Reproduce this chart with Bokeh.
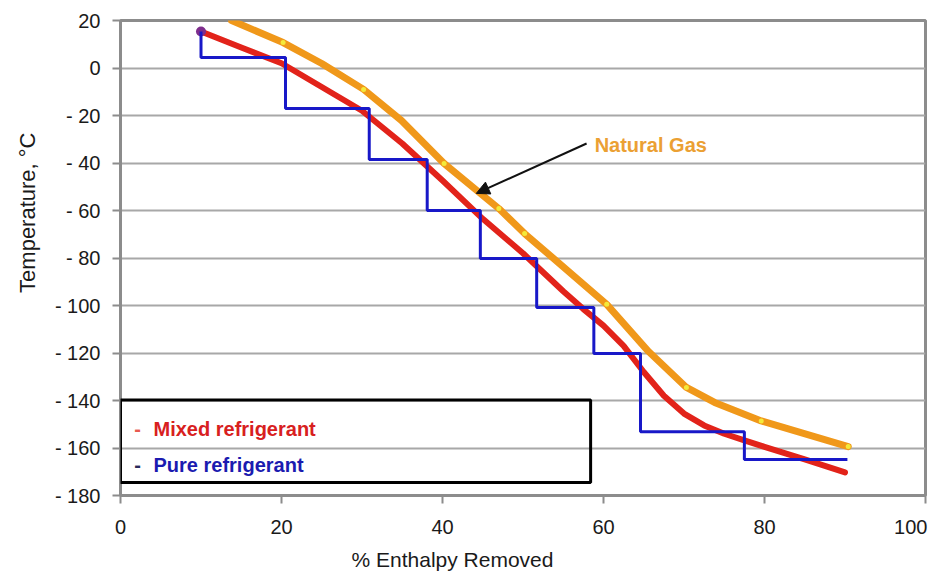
from bokeh.plotting import figure
from bokeh.models import Range1d, FixedTicker, BoxAnnotation, Label, Arrow, NormalHead, Title
from bokeh.embed import file_html
from bokeh.resources import INLINE

# ---------------- data ----------------
natural_gas_x = [13.8, 20.2, 25.0, 30.2, 34.9, 40.2, 47.0, 50.2, 60.4, 65.6, 70.3, 73.8, 79.6, 90.4]
natural_gas_y = [20.0, 10.7, 1.9, -9.0, -22.1, -40.2, -59.2, -69.7, -99.5, -119.4, -134.5, -140.8, -148.6, -159.4]
natural_gas_marked = [False, True, False, True, False, True, True, True, True, False, True, False, True, True]

mixed_x = [10, 15, 20, 25, 30, 35, 40, 45, 50, 55, 57.5, 60, 62.5, 65, 67.5, 70, 72.5, 75, 77.5, 80, 85, 90]
mixed_y = [15.4, 8.6, 2.0, -8.0, -18.0, -31.8, -47.4, -63.5, -78.0, -94.0, -101.5, -108.5, -117.0, -128.0,
           -138.0, -145.5, -150.5, -154.0, -156.8, -159.5, -164.8, -170.3]

pure_start_y = 15.4
pure_edges = [10.0, 20.5, 30.9, 38.1, 44.7, 51.7, 58.8, 64.6, 77.5, 90.3]
pure_levels = [4.4, -17.0, -38.5, -60.0, -80.2, -100.8, -120.2, -153.2, -164.8]

x_ticks = [0, 20, 40, 60, 80, 100]
x_tick_labels = ["0", "20", "40", "60", "80", "100"]
y_ticks = [20, 0, -20, -40, -60, -80, -100, -120, -140, -160, -180]
y_tick_labels = ["20", "0", "- 20", "- 40", "- 60", "- 80", "- 100", "- 120", "- 140", "- 160", "- 180"]

legend_labels = ["Mixed refrigerant", "Pure refrigerant"]
legend_text_colors = ["#D8201E", "#1B1BB0"]
legend_dash_colors = ["#E85A50", "#2A2A5A"]

# ---------------- styles ----------------
SANS = "Liberation Sans"
GRAY = "#8C8C8C"
ORANGE = "#F0981A"
RED = "#E2231A"
BLUE = "#1818C8"
TXT = "#1A1A1A"

p = figure(width=938, height=576, output_backend="svg", toolbar_location=None,
           x_range=Range1d(0, 100), y_range=Range1d(-180, 20),
           min_border_left=119, min_border_right=13, min_border_top=20, min_border_bottom=81,
           background_fill_color="white", border_fill_color="white")

p.outline_line_color = GRAY
p.outline_line_width = 3

p.xgrid.grid_line_color = None
p.ygrid.grid_line_color = "#A8A8A8"
p.ygrid.grid_line_width = 2

p.xaxis.ticker = FixedTicker(ticks=x_ticks)
p.yaxis.ticker = FixedTicker(ticks=y_ticks)
xo = {t: l for t, l in zip(x_ticks, x_tick_labels)}
# last label sits a little left of its tick in the reference (kept inside the page)
xo[x_ticks[-1]] = x_tick_labels[-1] + "\u00a0\u00a0"
p.xaxis.major_label_overrides = xo
p.yaxis.major_label_overrides = {t: l for t, l in zip(y_ticks, y_tick_labels)}

for ax in (p.xaxis, p.yaxis):
    ax.axis_line_color = GRAY
    ax.axis_line_width = 3
    ax.major_tick_line_color = GRAY
    ax.major_tick_line_width = 2
    ax.major_tick_in = 0
    ax.major_tick_out = 8
    ax.minor_tick_line_color = None
    ax.major_label_text_font = SANS
    ax.major_label_text_font_size = "20px"
    ax.major_label_text_color = TXT
p.xaxis.major_label_standoff = 12
p.yaxis.major_label_standoff = 12

# axis titles as side titles so they can be offset like the reference
p.add_layout(Title(text="Temperature, °C", align="right", offset=112, standoff=24,
                   text_font=SANS, text_font_size="22px", text_font_style="normal",
                   text_color=TXT), "left")
p.add_layout(Title(text="% Enthalpy Removed", align="left", offset=231, standoff=10,
                   text_font=SANS, text_font_size="21px", text_font_style="normal",
                   text_color=TXT), "below")

# ---------------- series ----------------
p.line(natural_gas_x, natural_gas_y, line_color=ORANGE, line_width=7, line_cap="round", line_join="round")
mx = [x for x, m in zip(natural_gas_x, natural_gas_marked) if m]
my = [y for y, m in zip(natural_gas_y, natural_gas_marked) if m]
p.scatter(mx, my, size=5, fill_color="#F4EA3A", line_color=None)

p.line(mixed_x, mixed_y, line_color=RED, line_width=6, line_cap="round", line_join="round")
p.scatter(mixed_x[:1], mixed_y[:1], size=10, fill_color="#7E2D8C", line_color=None)

px_, py_ = [pure_edges[0]], [pure_start_y]
for i, lvl in enumerate(pure_levels):
    px_ += [pure_edges[i], pure_edges[i + 1]]
    py_ += [lvl, lvl]
p.line(px_, py_, line_color=BLUE, line_width=3)

# ---------------- annotations ----------------
p.add_layout(BoxAnnotation(left=0, right=58.4, top=-139.8, bottom=-174.5,
                           fill_alpha=0, line_color="black", line_alpha=1, line_width=3))
legend_y = [-151.8, -167.2]
for lab, tc, dc, ly in zip(legend_labels, legend_text_colors, legend_dash_colors, legend_y):
    p.add_layout(Label(x=1.7, y=ly, text="-", text_font=SANS, text_font_style="bold",
                       text_font_size="20px", text_color=dc, text_baseline="middle"))
    p.add_layout(Label(x=4.1, y=ly, text=lab, text_font=SANS, text_font_style="bold",
                       text_font_size="20px", text_color=tc, text_baseline="middle"))

p.add_layout(Label(x=58.9, y=-32.6, text="Natural Gas", text_font=SANS, text_font_style="bold",
                   text_font_size="20px", text_color="#EBA033", text_baseline="middle"))
p.add_layout(Arrow(x_start=57.9, y_start=-31.8, x_end=44.2, y_end=-52.8, line_color="#111111",
                   line_width=2, end=NormalHead(size=13, fill_color="#111111", line_color="#111111")))

open("out.html", "w").write(file_html(p, INLINE))
